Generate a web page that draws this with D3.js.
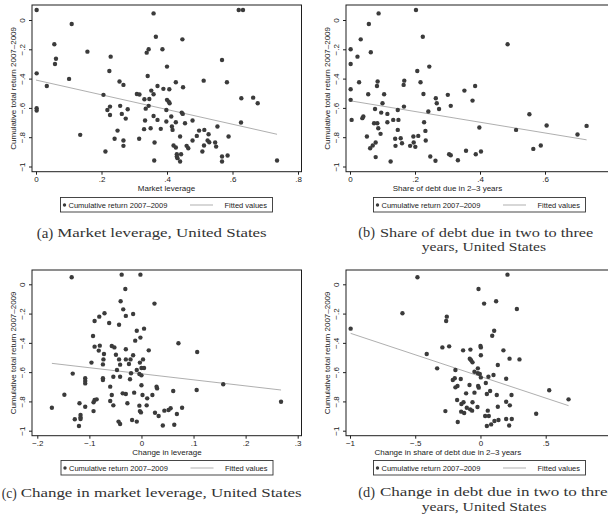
<!DOCTYPE html>
<html>
<head>
<meta charset="utf-8">
<script src="https://cdn.jsdelivr.net/npm/d3@7"></script>
<style>
  body { margin: 0; background: #fff; }
  svg { display: block; }
</style>
</head>
<body>
<div id="chart"></div>
<script>
// ---- data ----
const retTicks = [0, -0.2, -0.4, -0.6, -0.8, -1];
const ticksA = [0, 0.2, 0.4, 0.6, 0.8];
const ticksB = [0, 0.2, 0.4, 0.6];
const ticksC = [-0.2, -0.1, 0, 0.1, 0.2, 0.3];
const ticksD = [-1, -0.5, 0, 0.5];

const titleY = "Cumulative total return 2007\u20132009";
const legendDots = "Cumulative return 2007\u20132009";
const legendFit = "Fitted values";

// (a) market leverage vs return
const pointsA = [[0.002,0.068],[0.109,-0.027],[0.359,0.045],[0.619,0.068],[0.632,0.068],[0.366,-0.114],[0.447,-0.132],[0.056,-0.166],[0.157,-0.216],[0.061,-0.264],[0.228,-0.25],[0.058,-0.3],[0.338,-0.223],[0.344,-0.2],[0.386,-0.2],[0.4,-0.318],[0.568,-0.273],[0.002,-0.364],[0.224,-0.348],[0.341,-0.382],[0.101,-0.402],[0.033,-0.45],[0.255,-0.42],[0.267,-0.443],[0.371,-0.45],[0.389,-0.47],[0.407,-0.473],[0.427,-0.425],[0.449,-0.459],[0.512,-0.414],[0.583,-0.425],[0.206,-0.511],[0.308,-0.505],[0.316,-0.509],[0.352,-0.482],[0.359,-0.507],[0.331,-0.541],[0.346,-0.539],[0.4,-0.545],[0.405,-0.557],[0.408,-0.568],[0.627,-0.534],[0.663,-0.53],[0.677,-0.568],[0.218,-0.614],[0.226,-0.591],[0.257,-0.586],[0.335,-0.605],[0.344,-0.586],[0.398,-0.614],[0.28,-0.609],[0.002,-0.602],[0.002,-0.618],[0.226,-0.648],[0.262,-0.641],[0.274,-0.673],[0.359,-0.655],[0.371,-0.682],[0.333,-0.686],[0.413,-0.659],[0.445,-0.632],[0.448,-0.641],[0.398,-0.693],[0.427,-0.698],[0.415,-0.727],[0.417,-0.75],[0.455,-0.705],[0.478,-0.686],[0.554,-0.727],[0.626,-0.7],[0.249,-0.755],[0.33,-0.745],[0.35,-0.739],[0.381,-0.743],[0.498,-0.755],[0.514,-0.75],[0.527,-0.78],[0.491,-0.791],[0.478,-0.823],[0.524,-0.823],[0.529,-0.834],[0.547,-0.836],[0.55,-0.864],[0.44,-0.795],[0.315,-0.811],[0.24,-0.811],[0.267,-0.823],[0.267,-0.859],[0.135,-0.784],[0.212,-0.898],[0.588,-0.795],[0.362,-0.836],[0.42,-0.857],[0.427,-0.87],[0.43,-0.916],[0.443,-0.916],[0.43,-0.932],[0.432,-0.943],[0.44,-0.966],[0.46,-0.859],[0.465,-0.875],[0.508,-0.898],[0.513,-0.857],[0.568,-0.932],[0.568,-0.966],[0.585,-0.925],[0.361,-0.959],[0.736,-0.959]];
const fitA = [[0, -0.41], [0.736, -0.78]];

// (b) share of debt due in 2-3 years vs return
const pointsB = [[0.203,0.068],[0.088,0.045],[0.058,-0.027],[0.224,-0.114],[0.033,-0.132],[0.485,-0.166],[0.002,-0.2],[0.064,-0.22],[0.023,-0.25],[0.002,-0.3],[0.244,-0.318],[0.207,-0.348],[0.028,-0.425],[0.085,-0.42],[0.083,-0.45],[0.167,-0.414],[0.165,-0.443],[0.217,-0.425],[0.002,-0.473],[0.056,-0.507],[0.105,-0.507],[0.226,-0.505],[0.264,-0.534],[0.301,-0.511],[0.352,-0.482],[0.385,-0.45],[0.377,-0.55],[0.002,-0.545],[0.1,-0.568],[0.267,-0.568],[0.274,-0.607],[0.31,-0.586],[0.166,-0.591],[0.077,-0.607],[0.147,-0.614],[0.241,-0.625],[0.096,-0.632],[0.115,-0.641],[0.041,-0.659],[0.038,-0.67],[0.005,-0.682],[0.133,-0.682],[0.149,-0.682],[0.074,-0.705],[0.084,-0.705],[0.115,-0.698],[0.228,-0.698],[0.552,-0.643],[0.605,-0.72],[0.728,-0.723],[0.398,-0.734],[0.087,-0.739],[0.147,-0.75],[0.232,-0.757],[0.511,-0.75],[0.094,-0.777],[0.052,-0.795],[0.139,-0.811],[0.156,-0.807],[0.195,-0.795],[0.21,-0.791],[0.233,-0.823],[0.16,-0.841],[0.079,-0.836],[0.196,-0.836],[0.14,-0.859],[0.07,-0.857],[0.062,-0.875],[0.185,-0.859],[0.201,-0.866],[0.587,-0.857],[0.564,-0.88],[0.7,-0.782],[0.079,-0.936],[0.125,-0.966],[0.247,-0.932],[0.263,-0.961],[0.305,-0.916],[0.31,-0.923],[0.332,-0.957],[0.357,-0.893],[0.387,-0.916],[0.403,-0.898]];
const fitB = [[0.002, -0.552], [0.728, -0.818]];

// (c) change in leverage vs return
const pointsC = [[-0.134,0.048],[-0.038,0.066],[-0.002,0.066],[-0.031,-0.032],[-0.04,-0.116],[0.025,-0.132],[-0.035,-0.171],[-0.03,-0.216],[-0.016,-0.203],[-0.071,-0.198],[-0.081,-0.221],[-0.09,-0.251],[-0.062,-0.264],[-0.043,-0.276],[-0.009,-0.317],[0.005,-0.303],[-0.002,-0.364],[-0.012,-0.385],[-0.093,-0.353],[0.071,-0.403],[0.107,-0.462],[-0.09,-0.426],[-0.08,-0.419],[-0.082,-0.453],[-0.072,-0.476],[-0.057,-0.421],[-0.052,-0.431],[-0.03,-0.444],[0.014,-0.451],[-0.049,-0.481],[-0.043,-0.513],[-0.03,-0.513],[-0.021,-0.513],[-0.016,-0.485],[0.003,-0.513],[-0.003,-0.535],[0.0,-0.572],[0.005,-0.572],[-0.073,-0.513],[-0.074,-0.547],[-0.041,-0.549],[-0.024,-0.544],[-0.096,-0.535],[-0.047,-0.585],[-0.041,-0.631],[-0.054,-0.631],[-0.02,-0.608],[-0.009,-0.585],[-0.004,-0.613],[0.0,-0.622],[-0.132,-0.61],[-0.108,-0.642],[-0.108,-0.661],[-0.108,-0.677],[-0.074,-0.642],[-0.074,-0.654],[-0.022,-0.649],[-0.06,-0.699],[0.0,-0.69],[0.029,-0.699],[0.03,-0.711],[0.157,-0.683],[0.106,-0.722],[-0.148,-0.754],[-0.057,-0.756],[-0.036,-0.745],[-0.03,-0.749],[-0.014,-0.74],[0.002,-0.756],[0.021,-0.756],[0.011,-0.779],[0.061,-0.729],[-0.09,-0.79],[-0.086,-0.786],[-0.06,-0.797],[-0.119,-0.813],[-0.092,-0.806],[-0.027,-0.813],[-0.054,-0.827],[-0.108,-0.836],[-0.172,-0.843],[-0.004,-0.829],[0.01,-0.827],[0.078,-0.843],[0.268,-0.802],[0.056,-0.847],[0.052,-0.859],[0.044,-0.863],[-0.003,-0.866],[-0.001,-0.875],[-0.092,-0.866],[0.026,-0.877],[0.033,-0.9],[0.068,-0.886],[-0.117,-0.893],[-0.117,-0.909],[-0.117,-0.92],[-0.128,-0.922],[-0.018,-0.927],[-0.009,-0.938],[-0.044,-0.938],[-0.041,-0.954],[-0.12,-0.968],[0.041,-0.964],[0.063,-0.959]];
const fitC = [[-0.172, -0.54], [0.268, -0.722]];

// (d) change in share of debt due in 2-3 years vs return
const pointsD = [[-0.483,0.048],[0.207,0.066],[-0.015,-0.032],[0.028,-0.132],[0.12,-0.116],[0.279,-0.169],[-0.598,-0.198],[-0.258,-0.221],[-0.263,-0.251],[-0.995,-0.303],[0.105,-0.317],[0.09,-0.351],[-0.292,-0.431],[-0.24,-0.424],[-0.133,-0.451],[0.0,-0.421],[0.003,-0.431],[-0.077,-0.446],[0.176,-0.451],[-0.412,-0.476],[0.003,-0.485],[-0.082,-0.508],[-0.072,-0.519],[-0.061,-0.533],[0.223,-0.508],[0.299,-0.513],[0.133,-0.551],[-0.332,-0.574],[-0.192,-0.585],[-0.046,-0.597],[-0.02,-0.574],[-0.02,-0.608],[-0.005,-0.613],[0.003,-0.636],[0.061,-0.631],[0.1,-0.62],[0.197,-0.645],[-0.212,-0.654],[-0.197,-0.642],[-0.151,-0.647],[-0.192,-0.704],[-0.176,-0.695],[-0.084,-0.688],[-0.018,-0.695],[-0.013,-0.706],[0.041,-0.674],[0.527,-0.724],[0.074,-0.729],[-0.11,-0.745],[-0.046,-0.74],[0.049,-0.749],[0.125,-0.756],[0.238,-0.756],[0.675,-0.786],[-0.179,-0.79],[-0.13,-0.806],[-0.146,-0.818],[-0.061,-0.806],[0.197,-0.802],[0.225,-0.827],[-0.023,-0.838],[-0.105,-0.843],[-0.079,-0.854],[0.133,-0.836],[-0.269,-0.866],[-0.148,-0.87],[-0.125,-0.879],[-0.064,-0.863],[0.056,-0.863],[0.427,-0.884],[0.036,-0.9],[0.064,-0.9],[0.197,-0.92],[0.24,-0.92],[0.107,-0.934],[0.138,-0.927],[-0.174,-0.941],[0.082,-0.957],[0.049,-0.968],[0.22,-0.964]];
const fitD = [[-0.995, -0.335], [0.675, -0.829]];

// ---- layout ----
const width = 608, height = 524;
const dotColor = "#3b3b3b", fitColor = "#a6a6a6", frameColor = "#1e1e1e";
const sans = "'Liberation Sans', Arial, sans-serif";
const serif = "'Liberation Serif', 'Times New Roman', serif";

let svg = d3.select("#chart").append("svg")
  .attr("width", width)
  .attr("height", height);

// stata style tick labels: 0, .2, -.4, -1
function stataFmt(d) {
  return d3.format("~g")(d).replace(/^(\u2212?)0\./, "$1.");
}

const panels = [
  { points: pointsA, fit: fitA, xTicks: ticksA, xTitle: "Market leverage",
    frame: [32, 5, 301.5, 171.7], xDom: [0, 0.8], xRange: [36, 298], yRange: [20, 166.5],
    legend: [60.5, 197.5],
    caption: [{label: "(a)", l: [36.7, 53.3], t: [57.3, 266.7], text: "Market leverage, United States", y: 237}] },
  { points: pointsB, fit: fitB, xTicks: ticksB, xTitle: "Share of debt due in 2\u20133 years",
    frame: [346, 5, 614, 171.7], xDom: [0, 0.6], xRange: [350, 545], yRange: [20, 166.5],
    legend: [373.5, 197.5],
    caption: [{label: "(b)", l: [358.3, 375], t: [380, 593.3], text: "Share of debt due in two to three", y: 236.5},
              {t: [421.7, 546], text: "years, United States", y: 251}] },
  { points: pointsC, fit: fitC, xTicks: ticksC, xTitle: "Change in leverage",
    frame: [32, 270, 301.5, 435.7], xDom: [-0.2, 0.3], xRange: [37.3, 297.7], yRange: [284.3, 430.7],
    legend: [61, 460.5],
    caption: [{label: "(c)", l: [1.7, 16.7], t: [20.7, 301.7], text: "Change in market leverage, United States", y: 497.3}] },
  { points: pointsD, fit: fitD, xTicks: ticksD, xTitle: "Change in share of debt due in 2\u20133 years",
    frame: [346, 270, 614, 435.7], xDom: [-1, 0.5], xRange: [350, 545.7], yRange: [284.3, 430.7],
    legend: [373.5, 460.5],
    caption: [{label: "(d)", l: [358.3, 375], t: [380, 615], text: "Change in debt due in two to three", y: 496},
              {t: [421.7, 546.7], text: "years, United States", y: 510.7}] }
];

/**
 * Draws one stata-like scatter panel with its legend and caption
 */
function drawPanel(p) {
  let [fx0, fy0, fx1, fy1] = p.frame;
  let x = d3.scaleLinear().domain(p.xDom).range(p.xRange);
  let y = d3.scaleLinear().domain([0, -1]).range(p.yRange);
  let g = svg.append("g");

  // x axis on the frame bottom
  let xAxis = g.append("g")
    .attr("transform", "translate(0," + fy1 + ")")
    .call(d3.axisBottom(x).tickValues(p.xTicks).tickSize(3).tickFormat(stataFmt));
  xAxis.select(".domain").remove();
  xAxis.selectAll("line").attr("stroke", frameColor);
  xAxis.selectAll("text")
    .attr("y", 10.5).attr("dy", 0)
    .attr("fill", "#222")
    .style("font", "8px " + sans);

  // y axis, labels turned on their side
  let yAxis = g.append("g")
    .attr("transform", "translate(" + fx0 + ",0)")
    .call(d3.axisLeft(y).tickValues(retTicks).tickSize(3).tickFormat(stataFmt));
  yAxis.select(".domain").remove();
  yAxis.selectAll("line").attr("stroke", frameColor);
  yAxis.selectAll("text")
    .attr("transform", "rotate(-90)")
    .attr("x", 0).attr("y", -6.6).attr("dy", 0)
    .attr("text-anchor", "middle")
    .attr("fill", "#222")
    .style("font", "8px " + sans);

  // axis titles
  g.append("text")
    .attr("transform", "translate(" + (fx0 - 16.3) + "," + ((fy0 + fy1) / 2) + ") rotate(-90)")
    .attr("text-anchor", "middle")
    .attr("fill", "#222")
    .style("font", "8px " + sans)
    .text(titleY);
  g.append("text")
    .attr("x", (p.xRange[0] + p.xRange[1]) / 2 + (fx0 === 32 ? -0.5 : 0))
    .attr("y", fy1 + 19.3)
    .attr("text-anchor", "middle")
    .attr("fill", "#222")
    .style("font", "8px " + sans)
    .text(p.xTitle);

  // fitted line
  g.append("line")
    .attr("x1", x(p.fit[0][0])).attr("y1", y(p.fit[0][1]))
    .attr("x2", x(p.fit[1][0])).attr("y2", y(p.fit[1][1]))
    .attr("stroke", fitColor)
    .attr("stroke-width", 0.9);

  // markers
  g.append("g")
    .selectAll("circle")
    .data(p.points)
    .enter()
    .append("circle")
    .attr("cx", d => x(d[0]))
    .attr("cy", d => y(d[1]))
    .attr("r", 2.2)
    .attr("fill", dotColor);

  // plot region frame
  g.append("rect")
    .attr("x", fx0).attr("y", fy0)
    .attr("width", fx1 - fx0).attr("height", fy1 - fy0)
    .attr("fill", "none")
    .attr("stroke", frameColor)
    .attr("stroke-width", 1);

  // legend
  let [lx, ly] = p.legend;
  let leg = g.append("g").attr("transform", "translate(" + lx + "," + ly + ")");
  leg.append("rect")
    .attr("width", 212).attr("height", 14.5)
    .attr("fill", "#fff")
    .attr("stroke", "#333")
    .attr("stroke-width", 0.9);
  leg.append("circle").attr("cx", 4).attr("cy", 7.5).attr("r", 1.7).attr("fill", dotColor);
  leg.append("text")
    .attr("x", 8).attr("y", 10.2)
    .attr("fill", "#222")
    .style("font", "7.5px " + sans)
    .text(legendDots);
  leg.append("line")
    .attr("x1", 129.5).attr("x2", 152.5).attr("y1", 7.5).attr("y2", 7.5)
    .attr("stroke", fitColor).attr("stroke-width", 0.9);
  leg.append("text")
    .attr("x", 206.5).attr("y", 10.2)
    .attr("text-anchor", "end")
    .attr("fill", "#222")
    .style("font", "7.5px " + sans)
    .text(legendFit);

  // caption under the panel, stretched to the width of the original
  p.caption.forEach(c => {
    if (c.label) {
      svg.append("text")
        .attr("x", c.l[0]).attr("y", c.y + 0.5)
        .attr("textLength", c.l[1] - c.l[0])
        .attr("lengthAdjust", "spacingAndGlyphs")
        .attr("fill", "#333")
        .style("font", "14px " + serif)
        .text(c.label);
    }
    svg.append("text")
      .attr("x", c.t[0]).attr("y", c.y)
      .attr("textLength", c.t[1] - c.t[0])
      .attr("lengthAdjust", "spacingAndGlyphs")
      .attr("fill", "#333")
      .style("font", "13px " + serif)
      .text(c.text);
  });
}

panels.forEach(drawPanel);
</script>
</body>
</html>
